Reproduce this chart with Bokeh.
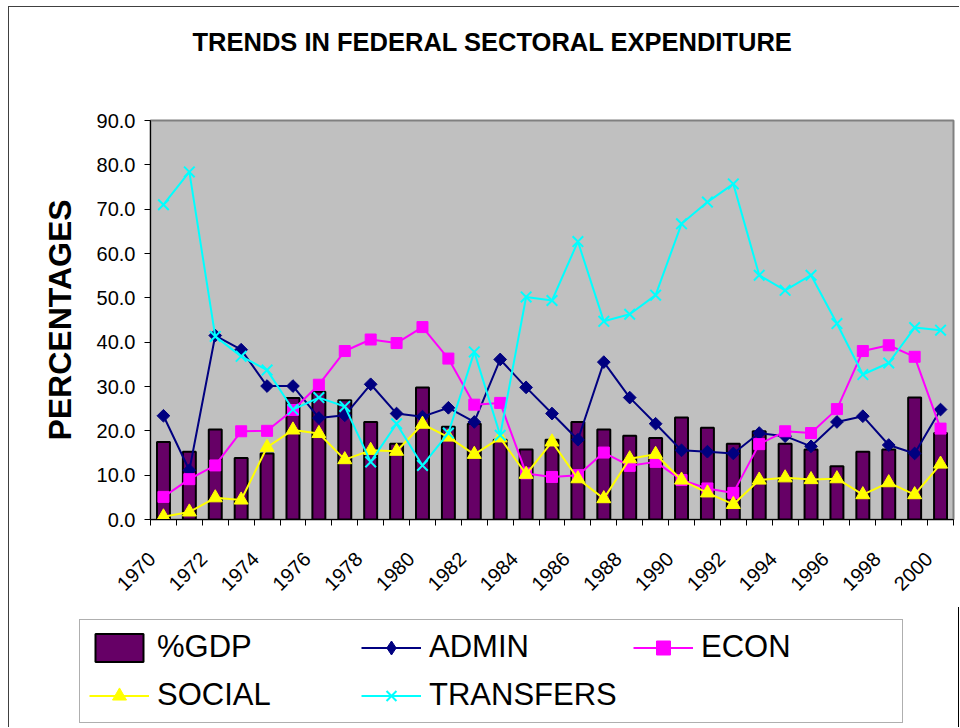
import math
from bokeh.plotting import figure
from bokeh.layouts import column
from bokeh.models import (Range1d, FixedTicker, NumeralTickFormatter, Legend,
                          LegendItem, ColumnDataSource, Title, CustomJSTickFormatter)
from bokeh.embed import file_html
from bokeh.resources import INLINE

# ---------------- data ----------------
years = list(range(1970, 2001))
gdp = [17.5, 15.3, 20.3, 13.9, 14.9, 27.4, 28.8, 26.9, 22.0, 17.1, 29.8,
       20.9, 21.6, 18.0, 15.8, 18.0, 22.0, 20.3, 18.9, 18.4, 23.0,
       20.7, 17.1, 19.9, 17.1, 15.8, 12.0, 15.3, 15.8, 27.5, 19.5]
admin = [23.4, 11.1, 41.5, 38.3, 30.1, 30.1, 22.9, 23.5, 30.5, 23.9, 23.2,
         25.2, 22.0, 36.1, 29.8, 23.9, 18.0, 35.5, 27.5, 21.6, 15.6,
         15.3, 14.9, 19.5, 18.8, 16.5, 22.0, 23.3, 16.8, 14.9, 24.8]
econ = [5.1, 9.1, 12.2, 19.9, 20.0, 24.7, 30.4, 38.0, 40.6, 39.8, 43.4,
        36.3, 25.9, 26.3, 10.4, 9.6, 10.0, 15.1, 12.1, 13.0, 8.9,
        7.0, 6.0, 17.0, 19.9, 19.5, 24.9, 38.0, 39.3, 36.7, 20.5]
social = [0.6, 1.7, 4.9, 4.4, 16.3, 20.2, 19.4, 13.5, 15.6, 15.4, 21.5,
          18.6, 14.7, 18.4, 10.2, 17.5, 9.2, 4.7, 13.7, 14.7, 8.9,
          6.0, 3.4, 8.9, 9.4, 9.0, 9.2, 5.6, 8.3, 5.6, 12.5]
transfers = [71.0, 78.4, 41.3, 36.8, 33.7, 24.8, 27.5, 25.5, 13.0, 21.6, 12.2,
             19.5, 37.8, 19.0, 50.2, 49.4, 62.7, 44.7, 46.3, 50.6, 66.7,
             71.6, 75.7, 55.1, 51.7, 55.1, 44.2, 32.7, 35.3, 43.3, 42.7]
y_ticks = [0, 10, 20, 30, 40, 50, 60, 70, 80, 90]
x_label_years = years[::2]

FONT = "Liberation Sans"
LABEL_SHIFT = 0.45  # Excel-style label placement, slightly left of category centre
FRAME_LEFT = 141

src = ColumnDataSource(dict(year=years, gdp=gdp, admin=admin, econ=econ,
                            social=social, transfers=transfers))


def add_series(fig, for_legend=False):
    """Draw the bar series and the four line series on fig; return renderers."""
    r_bar = fig.vbar(x="year", top="gdp", width=0.5, source=src,
                     fill_color="#660066", line_color="black", line_width=2)
    r_al = fig.line("year", "admin", source=src, line_color="#000080", line_width=2)
    if for_legend:
        r_am = fig.scatter("year", "admin", source=src, marker="diamond", size=15,
                           fill_color="#000080", line_color="#000080")
    else:
        r_am = fig.scatter("year", "admin", source=src, marker="square",
                           angle=math.pi / 4, size=9,
                           fill_color="#000080", line_color="#000080")
    r_el = fig.line("year", "econ", source=src, line_color="#FF00FF", line_width=2)
    r_em = fig.scatter("year", "econ", source=src, marker="square", size=11,
                       fill_color="#FF00FF", line_color="#FF00FF")
    r_sl = fig.line("year", "social", source=src, line_color="#FFFF00", line_width=2)
    r_sm = fig.scatter("year", "social", source=src, marker="triangle", size=14,
                       fill_color="#FFFF00", line_color="#FFFF00")
    r_tl = fig.line("year", "transfers", source=src, line_color="#00FFFF",
                    line_width=2)
    r_tm = fig.scatter("year", "transfers", source=src, marker="x", size=15,
                       line_color="#00FFFF", line_width=2)
    return [("%GDP", [r_bar]), ("ADMIN", [r_al, r_am]), ("ECON", [r_el, r_em]),
            ("SOCIAL", [r_sl, r_sm]), ("TRANSFERS", [r_tl, r_tm])]


# ---------------- main chart ----------------
p = figure(width=950, height=600, output_backend="svg", toolbar_location=None,
           x_range=Range1d(years[0] - 0.5, years[-1] + 0.5),
           y_range=Range1d(0, 90),
           min_border_left=FRAME_LEFT, min_border_right=6, min_border_top=113,
           min_border_bottom=88, title=None)

p.background_fill_color = "#C0C0C0"
p.border_fill_color = "white"
p.outline_line_color = "#808080"
p.outline_line_width = 2
p.xgrid.grid_line_color = None
p.ygrid.grid_line_color = None

# spacer between title and frame, then the title itself
p.add_layout(Title(text=" ", text_font_size="43px"), "above")
p.add_layout(Title(text="TRENDS IN FEDERAL SECTORAL EXPENDITURE", align="left",
                   offset=42, text_font=FONT, text_font_size="25.5px",
                   text_font_style="bold", text_color="black"), "above")

# y axis
ya = p.yaxis[0]
ya.ticker = FixedTicker(ticks=y_ticks)
ya.formatter = NumeralTickFormatter(format="0.0")
ya.major_label_text_font = FONT
ya.major_label_text_font_size = "20px"
ya.major_label_text_color = "black"
ya.major_tick_out = 6
ya.major_tick_in = 0
ya.minor_tick_line_color = None
ya.axis_line_color = "black"
ya.major_tick_line_color = "black"
ya.major_label_standoff = 9
ya.axis_label = "PERCENTAGES"
ya.axis_label_text_font = FONT
ya.axis_label_text_font_size = "32px"
ya.axis_label_text_font_style = "bold"
ya.axis_label_text_color = "black"
ya.axis_label_standoff = 16

# x axis
xa = p.xaxis[0]
xa.ticker = FixedTicker(ticks=[y - LABEL_SHIFT for y in x_label_years],
                        minor_ticks=[y - 0.5 for y in years] + [years[-1] + 0.5])
xa.formatter = CustomJSTickFormatter(args=dict(shift=LABEL_SHIFT),
                                     code="return String(Math.round(tick + shift));")
xa.major_tick_line_color = None
xa.minor_tick_line_color = "black"
xa.minor_tick_out = 6
xa.minor_tick_in = 0
xa.axis_line_color = "black"
xa.major_label_orientation = math.pi / 4
xa.major_label_text_font = FONT
xa.major_label_text_font_size = "20px"
xa.major_label_text_color = "black"
xa.major_label_standoff = 30

add_series(p)

# ---------------- legend panel ----------------
p2 = figure(width=950, height=120, output_backend="svg", toolbar_location=None,
            x_range=Range1d(0, 1), y_range=Range1d(0, 1),
            x_axis_location=None, y_axis_location=None,
            min_border_left=0, min_border_right=0, min_border_top=0,
            min_border_bottom=0, title=None)
p2.outline_line_color = None
p2.xgrid.grid_line_color = None
p2.ygrid.grid_line_color = None
p2.background_fill_color = "white"
p2.border_fill_color = "white"

legend_x = 70
if "frame_align" in p2.properties():
    p2.frame_align = False
else:
    legend_x = 70 - FRAME_LEFT

items = [LegendItem(label=lab, renderers=rs)
         for lab, rs in add_series(p2, for_legend=True)]
legend = Legend(items=items, location=(legend_x, 4), orientation="horizontal",
                ncols=3, glyph_width=60, glyph_height=35, label_height=35,
                label_width=192, label_standoff=8, spacing=12, padding=9, margin=0,
                label_text_font=FONT, label_text_font_size="31px",
                label_text_color="black", label_text_baseline="middle",
                border_line_color="#606060", border_line_width=1.5,
                background_fill_color="white", background_fill_alpha=1.0)
p2.add_layout(legend)

layout = column(p, p2, spacing=0,
                styles={"margin-left": "8px", "margin-top": "6px",
                        "border-left": "1px solid #404040",
                        "border-top": "1px solid #404040"})

open("out.html", "w").write(file_html(layout, INLINE))
